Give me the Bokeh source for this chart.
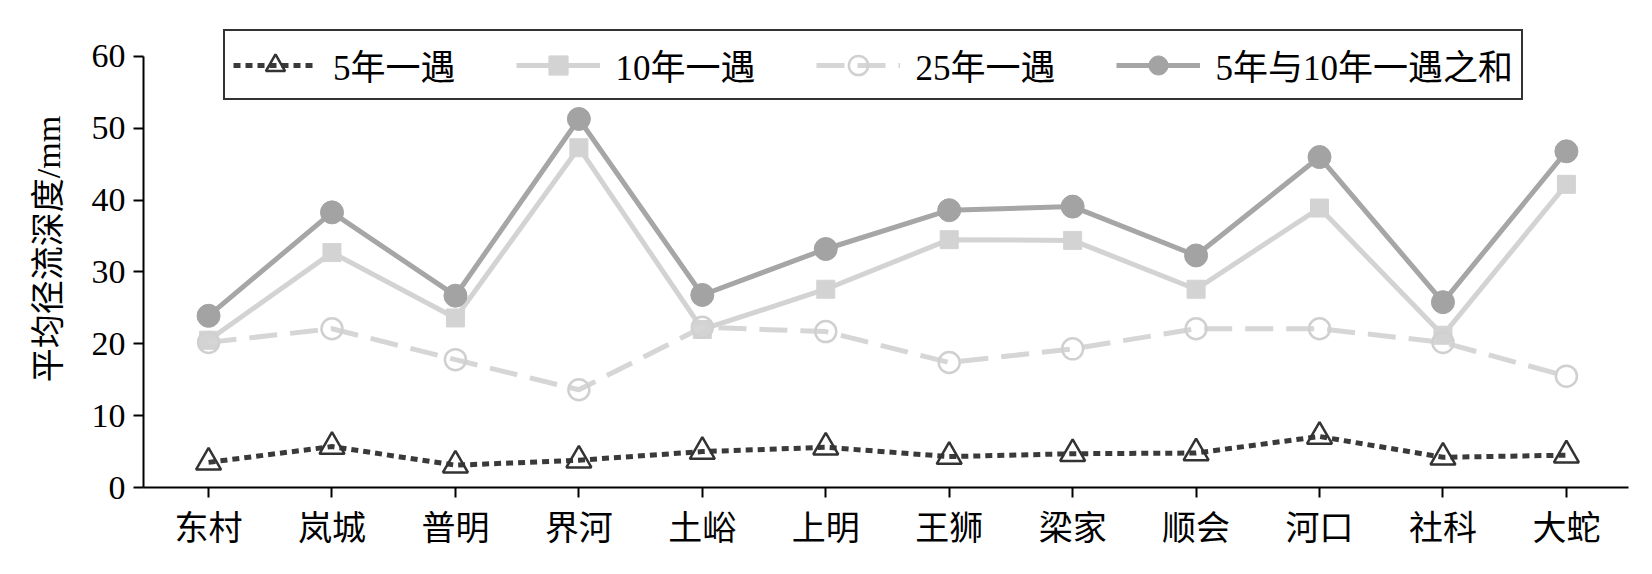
from bokeh.plotting import figure
from bokeh.models import Range1d, FixedTicker, Legend, LegendItem
from bokeh.embed import file_html
from bokeh.resources import INLINE

# stations along the x axis
stations = ['东村', '岚城', '普明', '界河', '土峪', '上明', '王狮', '梁家', '顺会', '河口', '社科', '大蛇']

# mean runoff depth (mm) for each series
yr5 = [3.5, 5.7, 3.1, 3.8, 5.0, 5.6, 4.3, 4.7, 4.8, 7.1, 4.2, 4.5]
yr10 = [20.5, 32.7, 23.6, 47.3, 22.0, 27.6, 34.5, 34.4, 27.6, 38.9, 21.2, 42.2]
yr25 = [20.2, 22.1, 17.8, 13.6, 22.3, 21.7, 17.4, 19.3, 22.1, 22.1, 20.2, 15.5]
yr5_10 = [23.9, 38.3, 26.7, 51.3, 26.8, 33.2, 38.6, 39.1, 32.3, 46.0, 25.8, 46.8]

y_ticks = [0, 10, 20, 30, 40, 50, 60]
names = ['5年一遇', '10年一遇', '25年一遇', '5年与10年一遇之和']

FONT = 'Liberation Serif, Noto Sans CJK SC'
x = list(range(len(stations)))

p = figure(width=1644, height=566,
           x_range=Range1d(-0.527, 11.503), y_range=Range1d(0, 66.4),
           output_backend="svg", toolbar_location=None,
           min_border_left=143, min_border_right=16,
           min_border_top=10, min_border_bottom=79)
p.outline_line_color = None
p.xgrid.visible = False
p.ygrid.visible = False
p.background_fill_color = 'white'
p.border_fill_color = 'white'

#axes
p.xaxis.ticker = FixedTicker(ticks=x)
p.xaxis.major_label_overrides = {i: s for i, s in enumerate(stations)}
p.yaxis.ticker = FixedTicker(ticks=y_ticks)
p.yaxis.bounds = (0, 60)
for ax in (p.xaxis, p.yaxis):
    ax.axis_line_color = 'black'
    ax.axis_line_width = 2
    ax.major_tick_line_color = 'black'
    ax.major_tick_line_width = 2
    ax.major_tick_out = 10
    ax.major_tick_in = 0
    ax.minor_tick_line_color = None
    ax.major_label_text_font = FONT
    ax.major_label_text_color = 'black'
p.xaxis.major_label_text_font_size = '34px'
p.xaxis.major_label_standoff = 12
p.yaxis.major_label_text_font_size = '34px'
p.yaxis.major_label_standoff = 8
p.yaxis.axis_label = '平均径流深度/mm'
p.yaxis.axis_label_text_font = FONT
p.yaxis.axis_label_text_font_size = '34px'
p.yaxis.axis_label_text_font_style = 'normal'
p.yaxis.axis_label_text_color = 'black'
p.yaxis.axis_label_standoff = 22

#series
l10 = p.line(x, yr10, line_color='#d3d3d3', line_width=5)
s10 = p.scatter(x, yr10, marker='square', size=18, fill_color='#d3d3d3', line_color='#d3d3d3')

l25 = p.line(x, yr25, line_color='#d6d6d6', line_width=5, line_dash='28 13')
s25 = p.scatter(x, yr25, marker='circle', size=21, fill_alpha=0, line_color='#d0d0d0', line_width=2.5)

l510 = p.line(x, yr5_10, line_color='#a6a6a6', line_width=5)
s510 = p.scatter(x, yr5_10, marker='circle', size=23, fill_color='#a3a3a3', line_color='#a3a3a3')

l5 = p.line(x, yr5, line_color='#3a3a3a', line_width=5, line_dash='7 5')
s5 = p.scatter(x, yr5, marker='triangle', size=25, fill_alpha=0, line_color='#333333', line_width=2.5)

legend = Legend(items=[LegendItem(label=names[0], renderers=[l5, s5]),
                       LegendItem(label=names[1], renderers=[l10, s10]),
                       LegendItem(label=names[2], renderers=[l25, s25]),
                       LegendItem(label=names[3], renderers=[l510, s510])],
                orientation='horizontal', location=(80, 387))
legend.label_text_font = FONT
legend.label_text_font_size = '35px'
legend.label_text_color = 'black'
legend.glyph_width = 84
legend.glyph_height = 48
legend.label_standoff = 16
legend.spacing = 60
legend.padding = 8
legend.margin = 0
legend.border_line_color = '#333333'
legend.border_line_alpha = 1
legend.border_line_width = 2
legend.background_fill_color = 'white'
legend.background_fill_alpha = 1
p.add_layout(legend, 'center')

open("out.html", "w").write(file_html(p, INLINE))
